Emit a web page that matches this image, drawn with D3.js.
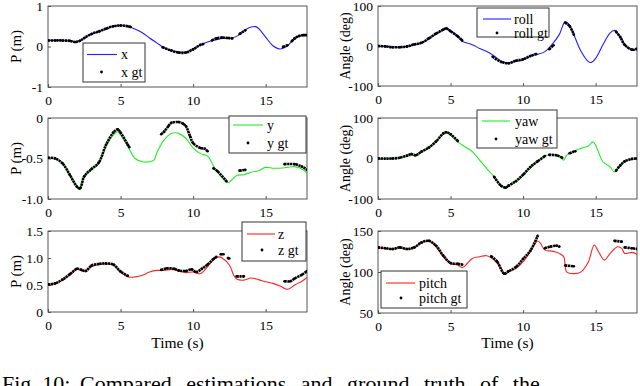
<!DOCTYPE html>
<html><head><meta charset="utf-8">
<script src="https://cdn.jsdelivr.net/npm/d3@7"></script>
<style>
html,body{margin:0;padding:0;background:#fff;overflow:hidden}
text{font-family:"Liberation Serif","Times New Roman",serif;fill:#000}
</style></head>
<body>
<svg id="c" width="640" height="386"></svg>
<script>
// ---------------- DATA ----------------
const xTicks = [0, 5, 10, 15];
const xMax = 17.85;

// position x (m)
const xEst = [[0,0.15],[1,0.15],[1.5,0.14],[1.9,0.12],[2.2,0.14],[2.5,0.21],[3,0.31],[3.5,0.37],[4,0.43],[4.5,0.50],[5,0.52],[5.5,0.50],[6,0.43],[6.5,0.34],[7,0.21],[7.5,0.09],[8,-0.03],[8.5,-0.10],[9,-0.14],[9.5,-0.14],[10,-0.07],[10.5,0.04],[11,0.11],[11.5,0.16],[12,0.20],[12.5,0.20],[13,0.25],[13.5,0.39],[14,0.48],[14.3,0.49],[14.5,0.45],[15,0.23],[15.5,0.02],[16,-0.06],[16.5,0.02],[17,0.19],[17.5,0.28],[17.85,0.28]];
const xGt = [[0,0.15],[0.5,0.15],[1,0.15],[1.5,0.14],[1.9,0.11],[2.2,0.14],[2.5,0.21],[3,0.31],[3.5,0.37],[4,0.44],[4.5,0.50],[5,0.52],[5.5,0.50],[5.7,0.48],null,
  [7.9,-0.02],[8.5,-0.10],[9,-0.15],[9.5,-0.15],[10,-0.07],[10.5,0.04],[10.7,0.06],null,
  [11.3,0.15],[11.6,0.20],[12,0.22],[12.4,0.21],[12.7,0.20],null,
  [13.2,0.31],[13.6,0.40],null,
  [16.2,-0.01],[16.5,0.03],null,
  [16.8,0.13],[17,0.20],[17.3,0.26],[17.6,0.28],[17.85,0.28]];

// position y (m)
const yEst = [[0,-0.49],[0.5,-0.50],[1,-0.56],[1.5,-0.70],[2,-0.84],[2.2,-0.86],[2.5,-0.72],[3,-0.64],[3.5,-0.56],[4,-0.35],[4.5,-0.21],[4.8,-0.17],[5,-0.21],[5.5,-0.35],[6,-0.50],[6.5,-0.54],[7,-0.54],[7.3,-0.52],[7.5,-0.43],[8,-0.27],[8.5,-0.19],[9,-0.19],[9.5,-0.25],[10,-0.37],[10.5,-0.44],[11,-0.47],[11.5,-0.62],[12,-0.74],[12.4,-0.80],[13,-0.71],[13.5,-0.70],[14,-0.67],[14.5,-0.65],[15,-0.61],[15.5,-0.62],[16,-0.62],[16.5,-0.61],[17,-0.60],[17.5,-0.63],[17.85,-0.68]];
const yGt = [[0,-0.49],[0.5,-0.50],[1,-0.56],[1.5,-0.70],[2,-0.85],[2.2,-0.87],[2.5,-0.72],[3,-0.63],[3.5,-0.55],[4,-0.33],[4.5,-0.18],[4.8,-0.14],[5,-0.18],[5.5,-0.33],[5.6,-0.36],null,
  [7.8,-0.20],[8,-0.17],[8.3,-0.10],[8.5,-0.06],[9,-0.05],[9.3,-0.07],[9.5,-0.10],[9.8,-0.23],[10,-0.31],[10.5,-0.37],[10.8,-0.38],[11,-0.41],null,
  [11.4,-0.62],[11.7,-0.66],[12.3,-0.78],null,
  [13.2,-0.65],[13.6,-0.64],null,
  [16.3,-0.57],[17,-0.57],[17.5,-0.60],[17.85,-0.64]];

// position z (m)
const zEst = [[0,0.51],[0.5,0.53],[1,0.59],[1.5,0.68],[2,0.79],[2.5,0.76],[3,0.84],[3.5,0.88],[4,0.89],[4.5,0.87],[5,0.74],[5.5,0.65],[6,0.65],[6.5,0.68],[7,0.74],[7.5,0.77],[8,0.77],[8.5,0.79],[9,0.76],[9.5,0.73],[10,0.74],[10.5,0.71],[11,0.84],[11.5,0.99],[11.8,1.02],[12,1.00],[12.5,0.87],[12.8,0.68],[13,0.61],[13.5,0.59],[14,0.63],[14.5,0.60],[15,0.56],[15.5,0.53],[16,0.48],[16.5,0.42],[17,0.50],[17.5,0.57],[17.85,0.64]];
const zGt = [[0,0.51],[0.5,0.53],[1,0.60],[1.5,0.70],[2,0.80],[2.3,0.78],[2.6,0.76],[3,0.86],[3.5,0.89],[4,0.90],[4.5,0.88],[5,0.75],[5.5,0.67],null,
  [7.8,0.78],[8.2,0.81],[8.7,0.80],[9,0.77],[9.5,0.76],[9.9,0.79],[10.2,0.74],[10.6,0.80],[11,0.88],[11.4,0.98],[11.6,1.02],null,
  [11.9,1.07],[12.1,1.07],null,[12.4,1.00],[12.5,0.99],null,
  [13.0,0.66],[13.5,0.66],null,
  [16.3,0.57],[16.7,0.57],[17,0.62],[17.5,0.69],[17.85,0.76]];

// roll (deg)
const rollEst = [[0,0],[0.5,-1],[1,-2],[1.5,-3],[2,-1],[2.5,3],[3,7],[3.5,18],[4,30],[4.5,40],[4.7,44],[5,38],[5.5,25],[5.8,12],[6,9],[6.5,3],[7,-6],[7.5,-14],[8,-25],[8.5,-38],[9,-42],[9.5,-38],[10,-35],[10.5,-25],[11,-21],[11.5,-14],[12,4],[12.5,29],[12.9,61],[13.2,51],[13.5,28],[14,-14],[14.5,-39],[14.7,-41],[15,-31],[15.5,3],[16,33],[16.3,39],[16.7,23],[17,4],[17.5,-10],[17.85,-8]];
const rollGt = [[0,0],[0.5,-1],[1,-3],[1.5,-3],[2,-1],[2.5,4],[3,8],[3.5,19],[4,31],[4.5,41],[4.7,44],[5,37],[5.5,24],[5.8,14],null,
  [7.9,-27],[8.5,-40],[9,-43],[9.5,-37],[10,-33],[10.5,-25],[10.9,-20],null,
  [11.8,-8],[12.1,2],null,
  [12.9,58],[13.2,50],[13.5,28],null,
  [16.4,36],[16.7,22],[17,3],[17.5,-9],[17.85,-7]];

// yaw (deg)
const yawEst = [[0,0],[1,0],[1.5,2],[2,6],[2.5,8],[3,17],[3.5,26],[4,41],[4.5,60],[4.7,64],[5,58],[5.5,41],[6,29],[6.5,17],[7,-4],[7.5,-25],[8,-45],[8.5,-66],[8.8,-70],[9,-66],[9.5,-56],[10,-41],[10.5,-21],[11,-7],[11.5,6],[12,10],[12.5,4],[12.8,-4],[13,8],[13.5,18],[14,25],[14.5,31],[14.8,41],[15,33],[15.5,-8],[16,-21],[16.3,-33],[16.7,-17],[17,-8],[17.5,-2],[17.85,0]];
const yawGt = [[0,0],[1,0],[1.5,2],[2,7],[2.3,11],[2.6,8],[3,17],[3.5,27],[4,42],[4.5,62],[4.7,65],[5,60],[5.5,43],null,
  [8,-45],[8.5,-68],[8.8,-72],[9,-67],[9.5,-56],[10,-40],[10.5,-21],[11,-7],[11.5,6],null,
  [11.8,9],[12.3,8],[12.7,2],null,
  [13.2,13],[13.6,18],null,
  [16.4,-30],[16.7,-17],[17,-7],[17.5,-1],[17.85,0]];

// pitch (deg)
const pitchEst = [[0,129.6],[0.5,128.8],[1,128],[1.5,129.6],[2,128],[2.5,129.6],[3,136],[3.5,137.8],[4,131],[4.5,118.6],[5,110.4],[5.5,108.4],[5.8,105.5],[6,107.5],[6.5,116.5],[7,118.6],[7.5,119.8],[8,114.5],[8.5,104.3],[8.7,97],[9,100.2],[9.5,104.3],[10,112.4],[10.5,124.7],[11,137.8],[11.2,134.9],[11.5,126.7],[12,125.5],[12.5,122.7],[12.8,118.6],[13,100.2],[13.5,98],[14,100.2],[14.5,112.4],[14.9,132.9],[15.2,124.7],[15.6,114.5],[16,122.7],[16.5,130.8],[16.8,128.8],[17,122.7],[17.5,123.9],[17.85,121.4]];
const pitchGt = [[0,130],[0.5,129],[1,128],[1.5,130],[2,128],[2.5,130],[3,136],[3.5,138],[4,132],[4.5,120],[5,111],[5.5,110],[5.8,109],null,
  [7.8,119],[8.2,113],[8.7,98],[9,101],[9.5,106],[10,116],[10.5,126],[11,144],null,
  [11.5,129],[11.9,131],[12.3,132],[12.5,131],null,
  [12.9,108],[13.5,107],null,
  [16.3,138],[16.8,137],null,
  [17,130],[17.5,129],[17.85,128]];

const yTicksX = [-1, 0, 1];
const yTicksY = [-1.0, -0.5, 0];
const yTicksZ = [0, 0.5, 1.0, 1.5];
const yTicksRoll = [-100, 0, 100];
const yTicksYaw = [-100, 0, 100];
const yTicksPitch = [50, 100, 150];

const captionLead = "Fig. 10:";
const captionRest = "Compared estimations and ground truth of the";

// ---------------- LAYOUT ----------------
const fmtInt = d => d3.format("d")(d).replace("−","-");
const fmt1 = d => d === 0 ? "0" : d3.format(".1f")(d).replace("−","-");

const panels = [
  {name:"x", x0:48, x1:307, y0:6, y1:87, dom:[-1,1], ticks:yTicksX, fmt:fmtInt, est:xEst, gt:xGt, color:"#1f1fff", ylabel:"P (m)",
   leg:{x:83,y:43,w:62,h:39, lx1:87, lx2:117, ly1:54.5, dx:101.5, dy:72, tx:121}},
  {name:"y", x0:48, x1:307, y0:118, y1:199, dom:[-1,0], ticks:yTicksY, fmt:fmt1, est:yEst, gt:yGt, color:"#22ee22", ylabel:"P (m)",
   leg:{x:229,y:116,w:77,h:37, lx1:233, lx2:263, ly1:125, dx:248, dy:143, tx:267}},
  {name:"z", x0:48, x1:307, y0:231, y1:312, dom:[0,1.5], ticks:yTicksZ, fmt:fmt1, est:zEst, gt:zGt, color:"#ff2222", ylabel:"P (m)", xlabel:"Time (s)",
   leg:{x:242,y:222,w:64,h:39, lx1:247, lx2:275, ly1:234, dx:262, dy:250, tx:278}},
  {name:"roll", x0:378, x1:637, y0:6, y1:86, dom:[-100,100], ticks:yTicksRoll, fmt:fmtInt, est:rollEst, gt:rollGt, color:"#1f1fff", ylabel:"Angle (deg)",
   leg:{x:477,y:8,w:72,h:29, lx1:483, lx2:511, ly1:19, dx:497, dy:33, tx:514}},
  {name:"yaw", x0:378, x1:637, y0:118, y1:199, dom:[-100,100], ticks:yTicksYaw, fmt:fmtInt, est:yawEst, gt:yawGt, color:"#22ee22", ylabel:"Angle (deg)",
   leg:{x:477,y:110,w:80,h:38, lx1:482, lx2:510, ly1:121, dx:496, dy:139, tx:515}},
  {name:"pitch", x0:378, x1:637, y0:231, y1:313, dom:[50,150], ticks:yTicksPitch, fmt:fmtInt, est:pitchEst, gt:pitchGt, color:"#ff2222", ylabel:"Angle (deg)", xlabel:"Time (s)",
   leg:{x:381,y:271,w:86,h:37, lx1:386, lx2:415, ly1:283, dx:401, dy:298, tx:419}}
];

const svg = d3.select("#c");
const axisCol = "#555";

panels.forEach((p, i) => {
  const xs = d3.scaleLinear().domain([0, xMax]).range([p.x0, p.x1]);
  const ys = d3.scaleLinear().domain(p.dom).range([p.y1, p.y0]);
  const g = svg.append("g");
  const clipId = "clip" + i;
  g.append("clipPath").attr("id", clipId).append("rect")
    .attr("x", p.x0).attr("y", p.y0).attr("width", p.x1 - p.x0).attr("height", p.y1 - p.y0);

  // box
  g.append("rect").attr("x", p.x0).attr("y", p.y0).attr("width", p.x1 - p.x0).attr("height", p.y1 - p.y0)
    .attr("fill", "none").attr("stroke", axisCol).attr("stroke-width", 1);

  // x axis (ticks inward)
  const xa = d3.axisBottom(xs).tickValues(xTicks).tickSize(-3).tickPadding(8).tickFormat(d3.format("d"));
  const gx = g.append("g").attr("transform", `translate(0,${p.y1})`).call(xa);
  gx.select(".domain").remove();
  gx.selectAll("line").attr("stroke", axisCol);
  gx.selectAll("text").style("font-size", "13.5px").style("font-family", "Liberation Serif").attr("fill", "#000");

  // y axis (ticks inward)
  const ya = d3.axisLeft(ys).tickValues(p.ticks).tickSize(-3).tickPadding(5).tickFormat(p.fmt);
  const gy = g.append("g").attr("transform", `translate(${p.x0},0)`).call(ya);
  gy.select(".domain").remove();
  gy.selectAll("line").attr("stroke", axisCol);
  gy.selectAll("text").style("font-size", "13.5px").style("font-family", "Liberation Serif").attr("fill", "#000");

  // y label
  const yc = (p.y0 + p.y1) / 2;
  const lx = p.x0 < 200 ? 21 : 350;
  g.append("text").attr("transform", `translate(${lx},${yc}) rotate(-90)`)
    .attr("text-anchor", "middle").style("font-size", p.x0 < 200 ? "15px" : "14px").text(p.ylabel);

  if (p.xlabel) {
    g.append("text").attr("x", (p.x0 + p.x1) / 2).attr("y", 348)
      .attr("text-anchor", "middle").style("font-size", "15.5px").text(p.xlabel);
  }

  // estimate line
  const line = d3.line().defined(d => d).x(d => xs(d[0])).y(d => ys(d[1])).curve(d3.curveCatmullRom.alpha(0.5));
  g.append("path").attr("clip-path", `url(#${clipId})`).attr("d", line(p.est))
    .attr("fill", "none").attr("stroke", p.color).attr("stroke-width", 1.1);

  // ground truth (dense dots)
  g.append("path").attr("clip-path", `url(#${clipId})`).attr("d", line(p.gt))
    .attr("fill", "none").attr("stroke", "#000").attr("stroke-width", 2.6)
    .attr("stroke-dasharray", "2.2,0.6");
  g.selectAll("circle.gt").data(p.gt.filter(d => d)).enter().append("circle")
    .attr("clip-path", `url(#${clipId})`)
    .attr("cx", d => xs(d[0])).attr("cy", d => ys(d[1])).attr("r", 1.3).attr("fill", "#000");

  // legend
  const L = p.leg;
  const lg = g.append("g");
  lg.append("rect").attr("x", L.x).attr("y", L.y).attr("width", L.w).attr("height", L.h)
    .attr("fill", "#fff").attr("stroke", "#333").attr("stroke-width", 1);
  lg.append("line").attr("x1", L.lx1).attr("x2", L.lx2).attr("y1", L.ly1).attr("y2", L.ly1)
    .attr("stroke", p.color).attr("stroke-width", 1.1);
  lg.append("text").attr("x", L.tx).attr("y", L.ly1 + 4.5).style("font-size", "14px").text(p.name);
  lg.append("circle").attr("cx", L.dx).attr("cy", L.dy).attr("r", 1.4).attr("fill", "#000");
  lg.append("text").attr("x", L.tx).attr("y", L.dy + 4.5).style("font-size", "14px").text(p.name + " gt");
});

// caption (clipped by the bottom edge, as in the reference)
svg.append("text").attr("x", 2).attr("y", 391).style("font-size", "22px").text(captionLead);
svg.append("text").attr("x", 80).attr("y", 391).style("font-size", "22px")
  .style("word-spacing", "9px").text(captionRest);
</script>
</body></html>
